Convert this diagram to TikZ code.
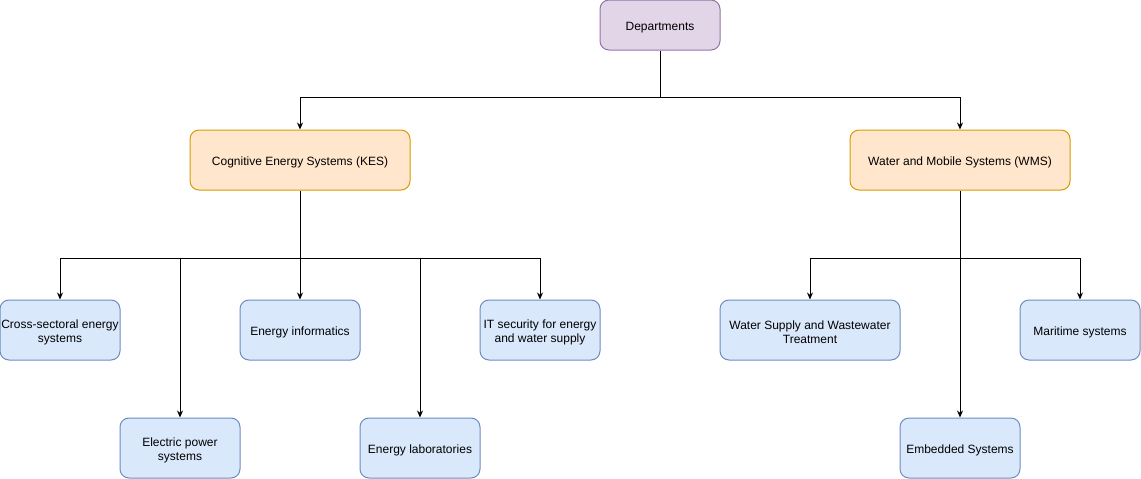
\documentclass[tikz,border=0pt]{standalone}
\usepackage{fontspec}
\setmainfont{Liberation Sans}
\usetikzlibrary{arrows.meta}
\definecolor{purfill}{HTML}{E1D5E7}
\definecolor{purline}{HTML}{9673A6}
\definecolor{orfill}{HTML}{FFE6CC}
\definecolor{orline}{HTML}{D79B00}
\definecolor{blfill}{HTML}{DAE8FC}
\definecolor{blline}{HTML}{6C8EBF}
\tikzset{
  lbl/.style={inner sep=0pt, align=center, yshift=-2.2pt,
    font=\fontsize{12pt}{14.4pt}\selectfont},
  txt/.style={label={[lbl]center:{#1}}},
  box/.style={draw, line width=1pt, rounded corners=9pt, inner sep=0pt, minimum height=60pt},
  purbox/.style={box, fill=purfill, draw=purline, minimum width=120pt, minimum height=50pt},
  orbox/.style={box, fill=orfill, draw=orline, minimum width=220pt},
  blbox/.style={box, fill=blfill, draw=blline, minimum width=120pt},
  conn/.style={line width=1pt, -{Stealth[length=7pt,width=6pt]}},
  plain/.style={line width=1pt}
}
\begin{document}
\begin{tikzpicture}[x=1pt,y=-1pt]
\useasboundingbox (0,0) rectangle (1141,479);
\node[purbox, txt={Departments}] (dep) at (660,25) {};
\node[orbox, txt={Cognitive Energy Systems (KES)}] (kes) at (300,160) {};
\node[orbox, txt={Water and Mobile Systems (WMS)}] (wms) at (960,160) {};
\node[blbox, txt={Cross-sectoral energy\\systems}] (cross) at (60,330) {};
\node[blbox, txt={Energy informatics}] (einf) at (300,330) {};
\node[blbox, txt={IT security for energy\\and water supply}] (itsec) at (540,330) {};
\node[blbox, txt={Electric power\\systems}] (epow) at (180,448) {};
\node[blbox, txt={Energy laboratories}] (elab) at (420,448) {};
\node[blbox, minimum width=180pt, txt={Water Supply and Wastewater\\Treatment}] (water) at (810,330) {};
\node[blbox, txt={Maritime systems}] (mari) at (1080,330) {};
\node[blbox, txt={Embedded Systems}] (emb) at (960,448) {};
\coordinate (dj) at (660,97.5);
\coordinate (kj) at (300,258.5);
\coordinate (wj) at (960,258.5);
\draw[plain] (dep.south) -- (dj);
\draw[conn] (dj) -| (kes.north);
\draw[conn] (dj) -| (wms.north);
\draw[plain] (kes.south) -- (kj);
\draw[conn] (kj) -| (cross.north);
\draw[conn] (kj) -| (epow.north);
\draw[conn] (kj) -- (einf.north);
\draw[conn] (kj) -| (elab.north);
\draw[conn] (kj) -| (itsec.north);
\draw[plain] (wms.south) -- (wj);
\draw[conn] (wj) -| (water.north);
\draw[conn] (wj) -- (emb.north);
\draw[conn] (wj) -| (mari.north);
\end{tikzpicture}
\end{document}
